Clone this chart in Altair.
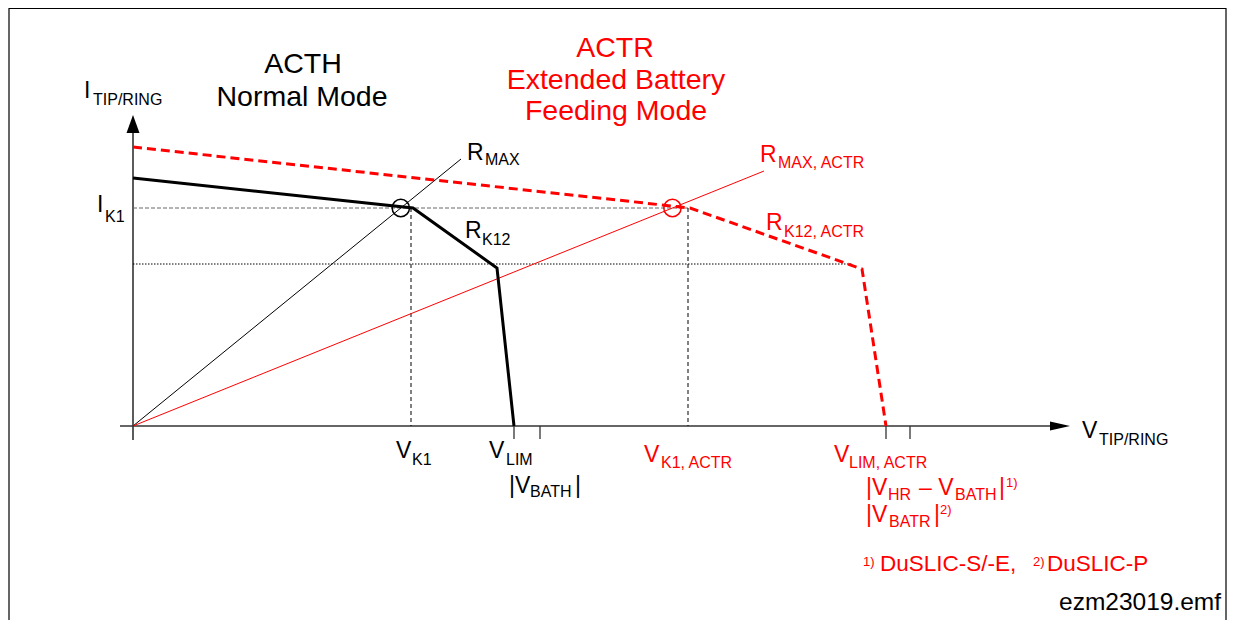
import altair as alt
import pandas as pd

# ---------------- data (arbitrary V / I units) ----------------
acth_v = [0.0, 28.0, 36.4, 38.1]
acth_i = [24.8, 21.8, 15.8, 0.0]
actr_v = [0.0, 55.7, 72.9, 75.3]
actr_i = [27.9, 21.8, 15.7, 0.0]

I_K1 = 21.8
I_DOT = 16.2
V_DOT_END = 72.0
V_K1 = 27.8
V_LIM = 38.1
V_BATH = 40.7
V_K1_ACTR = 55.5
V_LIM_ACTR = 75.3
V_BATR = 77.7

rmax_end = [32.8, 26.7]
rmax_actr_end = [63.1, 25.5]

# axis extents
x_axis = [-1.3, 91.9]
y_axis = [-1.4, 29.3]
x_tip = 93.7
y_tip = 31.1
tick_len = 1.3

# frame
frame_x = [-12.4, -12.4, 109.3, 109.3]
frame_y = [-19.4, 41.75, 41.75, -19.4]

# titles (centered)
title_text = ["ACTH", "Normal Mode", "ACTR", "Extended Battery", "Feeding Mode"]
title_x = [17.0, 16.9, 48.2, 48.3, 48.3]
title_y = [35.3, 32.0, 36.9, 33.7, 30.6]
title_color = ["black", "black", "red", "red", "red"]

# labels (left aligned pieces, main letters + subscripts)
lab_text = ["I", "TIP/RING", "I", "K1", "R", "MAX", "R", "K12",
            "V", "K1", "V", "LIM", "|V", "BATH", "|",
            "V", "TIP/RING", "ezm23019.emf",
            "R", "MAX, ACTR", "R", "K12, ACTR",
            "V", "K1, ACTR", "V", "LIM, ACTR",
            "|V", "HR", "\u2013 V", "BATH", "|", "1)",
            "|V", "BATR", "|", "2)",
            "1)", "DuSLIC-S/-E,", "2)", "DuSLIC-P"]
lab_x = [-4.9, -4.0, -3.6, -2.8, 33.4, 35.2, 33.2, 34.9,
         26.3, 27.9, 35.6, 37.3, 37.6, 39.7, 44.2,
         94.9, 96.6, 92.6,
         62.7, 64.5, 63.3, 65.1,
         51.1, 52.8, 70.1, 71.6,
         73.3, 75.5, 78.6, 82.2, 86.6, 87.3,
         73.3, 75.6, 80.1, 80.7,
         73.0, 74.7, 90.0, 91.4]
lab_y = [32.8, 32.1, 21.4, 20.4, 26.6, 26.1, 18.8, 18.1,
         -3.2, -3.9, -3.2, -3.9, -6.7, -7.1, -6.7,
         -1.2, -1.9, -18.4,
         26.4, 25.8, 19.6, 18.9,
         -3.6, -4.2, -3.6, -4.2,
         -6.9, -7.4, -6.9, -7.4, -6.9, -6.05,
         -9.6, -10.1, -9.6, -8.8,
         -14.0, -14.5, -14.0, -14.5]
lab_size = [23, 16, 23, 16, 23, 16, 23, 16,
            23, 16, 23, 16, 23, 16, 23,
            23, 16, 24.5,
            23, 16, 23, 16,
            23, 16, 23, 16,
            23, 16, 23, 16, 23, 13,
            23, 16, 23, 13,
            13, 22.5, 13, 22.5]
lab_color = ["black"] * 18 + ["red"] * 22

# ---------------- scales ----------------
W, H = 1219, 612
xs = alt.Scale(domain=[-12.5, 109.4], nice=False, zero=False)
ys = alt.Scale(domain=[-19.4, 41.8], nice=False, zero=False)
FONT = "Liberation Sans"


def X(f="x"):
    return alt.X(f, type="quantitative", scale=xs, axis=None)


def Y(f="y"):
    return alt.Y(f, type="quantitative", scale=ys, axis=None)


def poly(xv, yv):
    return pd.DataFrame({"x": xv, "y": yv, "o": list(range(len(xv)))})


def line_layer(df, color, width, dash=None):
    kw = dict(color=color, strokeWidth=width, strokeCap="butt", strokeJoin="miter")
    if dash:
        kw["strokeDash"] = dash
    return alt.Chart(df).mark_line(**kw).encode(X(), Y(), order="o:Q")


def rule_layer(df, color, width, dash=None):
    kw = dict(color=color, strokeWidth=width, strokeCap="butt")
    if dash:
        kw["strokeDash"] = dash
    return alt.Chart(df).mark_rule(**kw).encode(X(), Y(), x2="x2:Q", y2="y2:Q")


def seg(x1, y1, x2, y2):
    return pd.DataFrame({"x": x1, "y": y1, "x2": x2, "y2": y2})


layers = []
# frame
layers.append(line_layer(poly(frame_x, frame_y), "black", 1.2))
# axes
layers.append(rule_layer(seg([x_axis[0], 0], [0, y_axis[0]], [x_axis[1], 0], [0, y_axis[1]]),
                         "#333333", 1.6))
# ticks
tv = [V_LIM, V_BATH, V_LIM_ACTR, V_BATR]
layers.append(rule_layer(seg(tv, [0] * 4, tv, [-tick_len] * 4), "#333333", 1.3))
# guide lines
layers.append(rule_layer(seg([0], [I_K1], [V_K1_ACTR], [I_K1]), "#666666", 1, [4, 2]))
layers.append(rule_layer(seg([0], [I_DOT], [V_DOT_END], [I_DOT]), "black", 1, [1.5, 1.5]))
layers.append(rule_layer(seg([V_K1, V_K1_ACTR], [I_K1, I_K1], [V_K1, V_K1_ACTR], [0, 0]),
                         "black", 1, [4, 3]))
# load lines
layers.append(rule_layer(seg([0], [0], [rmax_end[0]], [rmax_end[1]]), "black", 1))
layers.append(rule_layer(seg([0], [0], [rmax_actr_end[0]], [rmax_actr_end[1]]), "red", 1))
# characteristics
layers.append(line_layer(poly(acth_v, acth_i), "black", 3))
layers.append(line_layer(poly(actr_v, actr_i), "red", 3, [9, 5]))
# circles at intersections
circ = pd.DataFrame({
    "x": [I_K1 * rmax_end[0] / rmax_end[1], I_K1 * rmax_actr_end[0] / rmax_actr_end[1]],
    "y": [I_K1, I_K1],
    "c": ["black", "red"],
})
layers.append(alt.Chart(circ).mark_point(shape="circle", filled=False, size=300, strokeWidth=1.5,
                                         opacity=1).encode(X(), Y(), color=alt.Color("c:N", scale=None)))
# arrow heads
layers.append(alt.Chart(pd.DataFrame({"x": [x_tip], "y": [0]})).mark_point(
    shape="M0,0L-2,-0.45L-2,0.45Z", size=400, filled=True, color="black", opacity=1
).encode(X(), Y()))
layers.append(alt.Chart(pd.DataFrame({"x": [0], "y": [y_tip]})).mark_point(
    shape="M0,0L0.65,1.8L-0.65,1.8Z", size=400, filled=True, color="black", opacity=1
).encode(X(), Y()))
# titles
tdf = pd.DataFrame({"x": title_x, "y": title_y, "t": title_text, "c": title_color})
layers.append(alt.Chart(tdf).mark_text(align="center", baseline="alphabetic", font=FONT, fontSize=28.5).encode(
    X(), Y(), text="t:N", color=alt.Color("c:N", scale=None)))
# labels
ldf = pd.DataFrame({"x": lab_x, "y": lab_y, "t": lab_text, "s": lab_size, "c": lab_color})
layers.append(alt.Chart(ldf).mark_text(align="left", baseline="alphabetic", font=FONT).encode(
    X(), Y(), text="t:N", size=alt.Size("s:Q", scale=None), color=alt.Color("c:N", scale=None)))

chart = alt.layer(*layers).properties(
    width=W, height=H, padding=0, autosize=alt.AutoSizeParams(type="none"), background="white"
).configure_view(stroke=None)

chart.save("out.html", embed_options={"renderer": "svg", "actions": False})
